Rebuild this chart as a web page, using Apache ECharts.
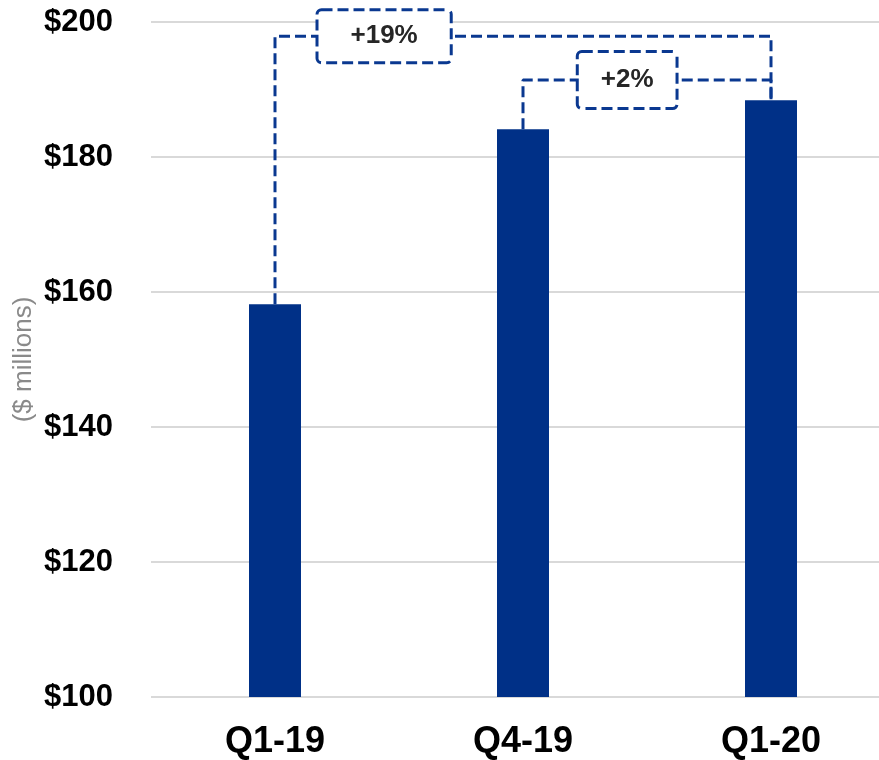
<!DOCTYPE html>
<html>
<head>
<meta charset="utf-8">
<script src="https://cdn.jsdelivr.net/npm/echarts@6/dist/echarts.min.js"></script>
<style>
  html, body { margin: 0; padding: 0; background: #fff; overflow: hidden; }
  #chart { width: 895px; height: 760px; }
</style>
</head>
<body>
<div id="chart"></div>
<script>
// values ($ millions)
const categories = ["Q1-19", "Q4-19", "Q1-20"];
const revenue = [158.2, 184.1, 188.4];
const yMin = 100;
const yMax = 200;
const yStep = 20;

// growth brackets: from bar, to bar, level of the bracket, label and where it sits
const changeFrom = [0, 1];
const changeTo = [2, 2];
const changeLevel = [197.9, 191.4];
const changeLabels = ["+19%", "+2%"];
const changeLabelAt = [0.44, 1.42];

const BLUE = "#003087";
const DASH = "#0a3890";
const FONT = "Liberation Sans, Arial, sans-serif";

// the plot runs a little past the right edge of the picture, so the chart is
// drawn wider than the window and the overflow is clipped
const chart = echarts.init(document.getElementById("chart"));

const bracketSeries = changeFrom.map((from, i) => {
    const to = changeTo[i];
    return {
        type: "line",
        xAxisIndex: 1,
        symbol: "none",
        silent: true,
        z: 3,
        lineStyle: { color: DASH, width: 3, type: [11, 5] },
        data: [
            [from, revenue[from]],
            [from, changeLevel[i]],
            [to, changeLevel[i]],
            [to, revenue[to]],
        ],
    };
});

const labelPadding = [[12, 32], [14, 22]];

const option = {
    animation: false,
    grid: { left: 151, top: 22, right: 0, bottom: 63 },
    xAxis: [
        {
            type: "category",
            data: categories,
            axisLine: { show: false },
            axisTick: { show: false },
            axisLabel: {
                color: "#000",
                fontFamily: FONT,
                fontWeight: "bold",
                fontSize: 36,
                margin: 27,
            },
        },
        {
            type: "value",
            min: -0.5,
            max: categories.length - 0.5,
            show: false,
        },
    ],
    yAxis: {
        type: "value",
        min: yMin,
        max: yMax,
        interval: yStep,
        name: "($ millions)",
        nameLocation: "middle",
        nameGap: 114,
        nameMoveOverlap: false,
        nameTextStyle: { color: "#8a8a8a", fontFamily: FONT, fontSize: 26 },
        axisLine: { show: false },
        axisTick: { show: false },
        axisLabel: {
            color: "#000",
            fontFamily: FONT,
            fontWeight: "bold",
            fontSize: 31,
            margin: 38,
            formatter: (v) => "$" + v,
        },
        splitLine: { lineStyle: { color: "#d9d9d9", width: 2 } },
    },
    series: [
        {
            type: "bar",
            data: revenue,
            barWidth: 52,
            itemStyle: { color: BLUE },
            z: 2,
        },
        ...bracketSeries,
        {
            type: "scatter",
            xAxisIndex: 1,
            symbolSize: 1,
            itemStyle: { color: "transparent", opacity: 1 },
            silent: true,
            z: 5,
            data: changeLabels.map((text, i) => ({
                value: [changeLabelAt[i], changeLevel[i]],
                label: { padding: labelPadding[i] },
            })),
            label: {
                show: true,
                position: "inside",
                formatter: (p) => changeLabels[p.dataIndex],
                fontFamily: FONT,
                fontWeight: "bold",
                fontSize: 26,
                lineHeight: 26,
                color: "#262626",
                backgroundColor: "#fff",
                borderColor: DASH,
                borderWidth: 3,
                borderType: [11, 5],
                borderRadius: 3,
            },
        },
    ],
};

chart.setOption(option);
</script>
</body>
</html>
